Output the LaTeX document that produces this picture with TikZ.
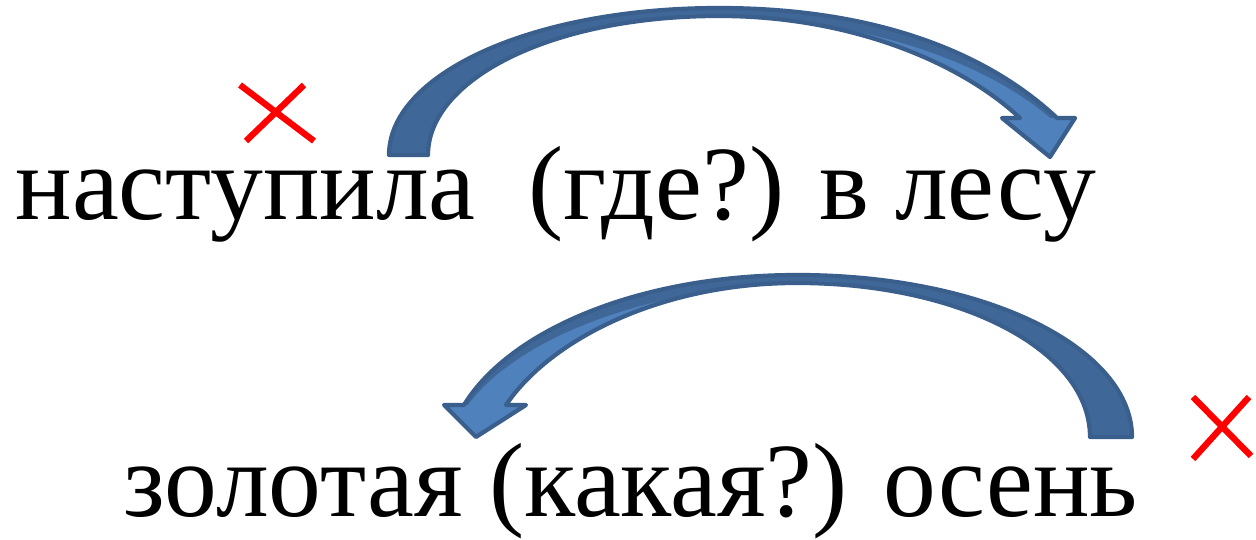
\documentclass[tikz,border=0pt]{standalone}
\usepackage{fontspec}
\setmainfont{Liberation Serif}
\usetikzlibrary{calc}

\definecolor{arrowline}{HTML}{3A5F8C}
\definecolor{arrowdark}{HTML}{3F6899}
\definecolor{arrowlight}{HTML}{4F81BD}

\tikzset{
  phrase/.style={anchor=base west, inner sep=0pt, font=\fontsize{30}{36}\selectfont},
  cross/.style={red, line width=1.8pt},
  bentarrow/.style={draw=arrowline, line width=1.2pt, line join=round}
}

\begin{document}
\begin{tikzpicture}[x=0.01cm, y=-0.01cm]
  \useasboundingbox (0,0) rectangle (1256,540);

  % строки
  \node[phrase] (line1) at (15,220) {наступила\ \ (где?) в лесу};
  \node[phrase] (line2) at (123,517) {золотая (какая?) осень};

  % верхняя стрелка
  \fill[arrowdark] (389,155) .. controls (389,75) and (530,8) .. (719,8)
    .. controls (880,8) and (990,55) .. (1057,118) -- (1075,118) -- (1050,157)
    -- (1002,118) -- (1020,118) .. controls (960,62) and (850,16) .. (719,16)
    .. controls (550,16) and (428,80) .. (428,155) -- cycle;
  \fill[arrowlight] (1020,118) .. controls (960,62) and (850,16) .. (719,16)
    -- (680,14) .. controls (860,14) and (985,62) .. (1050,118)
    -- (1075,118) -- (1050,157) -- (1002,118) -- cycle;
  \draw[bentarrow] (389,155) .. controls (389,75) and (530,8) .. (719,8)
    .. controls (880,8) and (990,55) .. (1057,118) -- (1075,118) -- (1050,157)
    -- (1002,118) -- (1020,118) .. controls (960,62) and (850,16) .. (719,16)
    .. controls (550,16) and (428,80) .. (428,155) -- cycle;

  % нижняя стрелка
  \fill[arrowdark] (1132,437) .. controls (1132,350) and (990,275) .. (797,275)
    .. controls (640,275) and (510,330) .. (464,405) -- (444,405) -- (476,437)
    -- (526,405) -- (506,405) .. controls (550,340) and (660,283) .. (797,283)
    .. controls (960,283) and (1090,350) .. (1090,437) -- cycle;
  \fill[arrowlight] (506,405) .. controls (550,340) and (660,283) .. (797,283)
    -- (840,281) .. controls (660,281) and (520,335) .. (468,405)
    -- (444,405) -- (476,437) -- (526,405) -- cycle;
  \draw[bentarrow] (1132,437) .. controls (1132,350) and (990,275) .. (797,275)
    .. controls (640,275) and (510,330) .. (464,405) -- (444,405) -- (476,437)
    -- (526,405) -- (506,405) .. controls (550,340) and (660,283) .. (797,283)
    .. controls (960,283) and (1090,350) .. (1090,437) -- cycle;

  % крестики
  \draw[cross] (240,85) -- (314,141) (304,85) -- (246,141);
  \draw[cross] (1193,397) -- (1251,456) (1249,397) -- (1193,459);
\end{tikzpicture}
\end{document}
